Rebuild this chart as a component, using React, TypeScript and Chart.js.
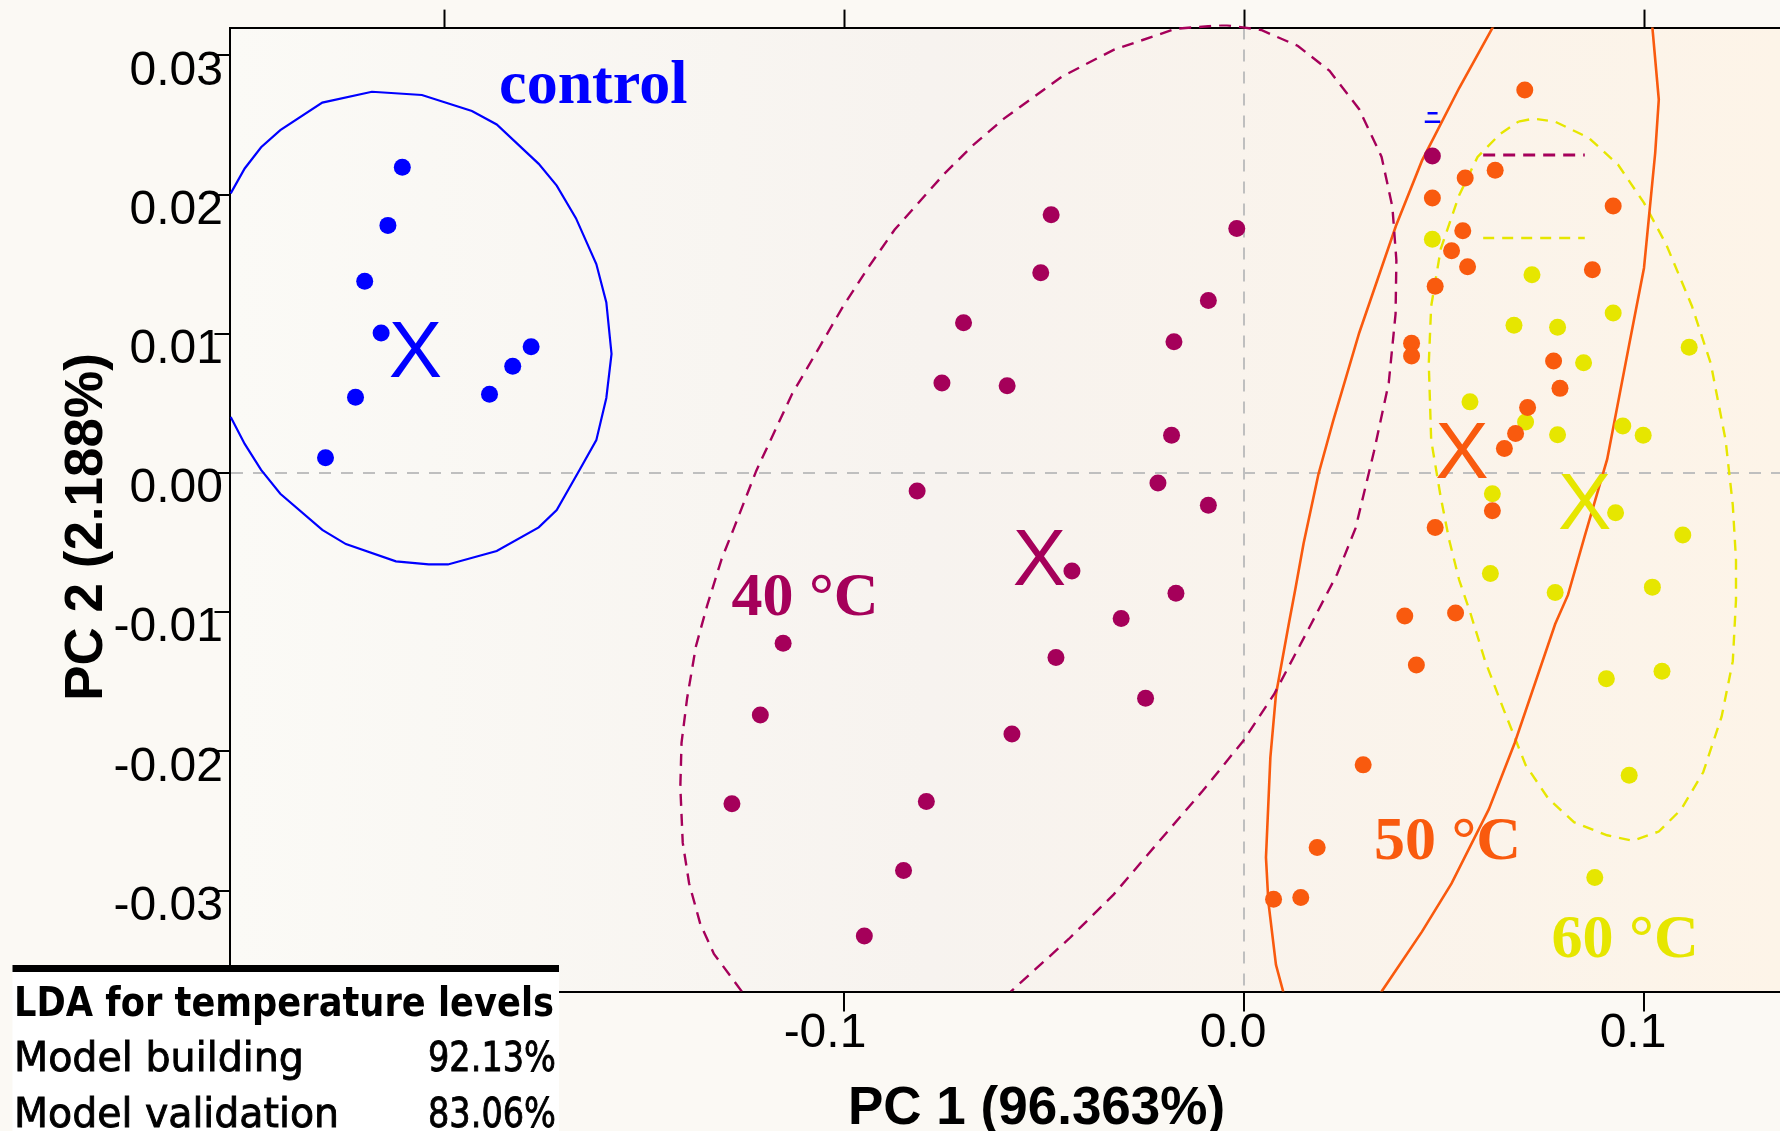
import React, { useEffect, useRef } from "react";
import { Chart, registerables } from "chart.js";

Chart.register(...registerables);

// ---------- data (PC1, PC2) ----------
const controlPoints: [number, number][] = [
  [-0.2105, 0.02197], [-0.2141, 0.01779], [-0.2199, 0.01377], [-0.2158, 0.01006], [-0.2222, 0.00545],
  [-0.2297, 0.0011], [-0.1887, 0.00566], [-0.1829, 0.00767], [-0.1783, 0.00907],
];

const c40Points: [number, number][] = [
  [-0.0483, 0.01856], [-0.0019, 0.01756], [-0.0509, 0.01438], [-0.009, 0.0124], [-0.0702, 0.0108],
  [-0.0176, 0.00943], [-0.0756, 0.00646], [-0.0593, 0.00626], [-0.0182, 0.00272], [-0.0818, -0.00129],
  [-0.0216, -0.00072], [-0.009, -0.00231], [-0.0431, -0.00704], [-0.0171, -0.00864], [-0.0308, -0.01045],
  [-0.1153, -0.01224], [-0.0471, -0.01325], [-0.0247, -0.01618], [-0.121, -0.01738], [-0.0581, -0.01876],
  [-0.1281, -0.02376], [-0.0795, -0.02361], [-0.0852, -0.02856], [-0.095, -0.03327], [0.047, 0.02277],
];

const c50Points: [number, number][] = [
  [0.0701, 0.02752], [0.0627, 0.02175], [0.0552, 0.02119], [0.047, 0.01976], [0.0922, 0.01919],
  [0.0546, 0.0174], [0.0518, 0.01597], [0.0558, 0.01482], [0.087, 0.0146], [0.0477, 0.01341],
  [0.0418, 0.00932], [0.0418, 0.00841], [0.0773, 0.00805], [0.0789, 0.00608], [0.0708, 0.0047],
  [0.0678, 0.00283], [0.065, 0.00176], [0.062, -0.00272], [0.0477, -0.00391], [0.0401, -0.01027],
  [0.0528, -0.01006], [0.043, -0.01379], [0.0297, -0.02097], [0.0182, -0.0269], [0.0073, -0.03063],
  [0.0141, -0.0305],
];

const c60Points: [number, number][] = [
  [0.047, 0.0168], [0.0719, 0.01424], [0.0922, 0.01149], [0.0674, 0.01061], [0.0783, 0.01047],
  [0.1112, 0.00904], [0.0848, 0.00792], [0.0564, 0.00511], [0.0703, 0.00366], [0.0783, 0.00275],
  [0.0946, 0.00338], [0.0997, 0.00272], [0.062, -0.00149], [0.0928, -0.00286], [0.1096, -0.00445],
  [0.0615, -0.00722], [0.0777, -0.00858], [0.102, -0.0082], [0.0905, -0.01479], [0.1044, -0.01424],
  [0.0962, -0.02172], [0.0876, -0.02906],
];

// group centroids ("X" marks)
const centroidNames = ["control", "40 °C", "50 °C", "60 °C"];
const centroidX = [-0.2072, -0.0512, 0.0544, 0.0851];
const centroidY = [0.00896, -0.00596, 0.00167, -0.00197];

// group labels (left / baseline anchor)
const labelTexts = ["control", "40 °C", "50 °C", "60 °C"];
const labelX = [-0.1863, -0.1282, 0.0324, 0.0768];
const labelY = [0.02661, -0.01019, -0.02773, -0.03481];

// confidence ellipses (outline vertices)
const controlEllipse: [number, number][] = [
  [-0.2534, 0.02009], [-0.2499, 0.02188], [-0.2458, 0.0234], [-0.241, 0.02463], [-0.2305, 0.02661],
  [-0.2181, 0.02739], [-0.2056, 0.02716], [-0.1931, 0.02601], [-0.1869, 0.02504], [-0.1764, 0.02221],
  [-0.1719, 0.02065], [-0.1671, 0.01831], [-0.162, 0.01501], [-0.1595, 0.01226], [-0.1582, 0.00855],
  [-0.1595, 0.00539], [-0.162, 0.00236], [-0.1662, 0.00022], [-0.1719, -0.00267], [-0.1764, -0.00391],
  [-0.1869, -0.00561], [-0.1991, -0.00657], [-0.2039, -0.00657], [-0.2121, -0.00635], [-0.2246, -0.00511],
  [-0.2305, -0.00409], [-0.241, -0.00149], [-0.2458, 0.00022], [-0.2499, 0.00209], [-0.2534, 0.00402],
];

const c40Ellipse: [number, number][] = [
  [-0.1256, -0.03726], [-0.1326, -0.03455], [-0.136, -0.03241], [-0.1388, -0.02949], [-0.1404, -0.02656],
  [-0.141, -0.02256], [-0.1407, -0.01938], [-0.1393, -0.01618], [-0.1371, -0.01245], [-0.1343, -0.00953],
  [-0.1307, -0.0062], [-0.1276, -0.00396], [-0.122, 0.00017], [-0.1131, 0.00566], [-0.1064, 0.00896],
  [-0.1003, 0.01198], [-0.0941, 0.01473], [-0.0874, 0.01749], [-0.0751, 0.02147], [-0.0679, 0.02353],
  [-0.0601, 0.02546], [-0.0456, 0.02848], [-0.0327, 0.0304], [-0.0171, 0.03192], [-0.0048, 0.03219],
  [0.0042, 0.03183], [0.0134, 0.03068], [0.0213, 0.02889], [0.0287, 0.02614], [0.0343, 0.02271],
  [0.037, 0.01913], [0.038, 0.01529], [0.0378, 0.01144], [0.0361, 0.00649], [0.0324, 0.00154],
  [0.0278, -0.00396], [0.0232, -0.00726], [0.0167, -0.01085], [0.0074, -0.01591], [-0.0003, -0.01925],
  [-0.0104, -0.02283], [-0.0216, -0.02656], [-0.0327, -0.03029], [-0.0439, -0.03348], [-0.0584, -0.03726],
];

const c50EllipseLeft: [number, number][] = [
  [0.0631, 0.03254], [0.0537, 0.02766], [0.0444, 0.02244], [0.0379, 0.01776], [0.0287, 0.01006],
  [0.0222, 0.00374], [0.0185, -0.00011], [0.0148, -0.00506], [0.0127, -0.00841], [0.0111, -0.01085],
  [0.0079, -0.01591], [0.0065, -0.02044], [0.0054, -0.02762], [0.006, -0.03082], [0.0079, -0.03534],
  [0.0097, -0.03726], [0.0104, -0.03786],
];

const c50EllipseRight: [number, number][] = [
  [0.1017, 0.0329], [0.102, 0.032], [0.1036, 0.02683], [0.1027, 0.02299], [0.0999, 0.01473],
  [0.0962, 0.00924], [0.0907, 0.00099], [0.0851, -0.00451], [0.0809, -0.00876], [0.0777, -0.01085],
  [0.0676, -0.01938], [0.0611, -0.02417], [0.0518, -0.02949], [0.0444, -0.03295], [0.0343, -0.03726],
  [0.0327, -0.03786],
];

const c60Ellipse: [number, number][] = [
  [0.0685, 0.02524], [0.0722, 0.02546], [0.0777, 0.02524], [0.0861, 0.02408], [0.0934, 0.02216],
  [0.0999, 0.01941], [0.1055, 0.01639], [0.1119, 0.01198], [0.1166, 0.00786], [0.1203, 0.00236],
  [0.1221, -0.00231], [0.1229, -0.00625], [0.1229, -0.00912], [0.1221, -0.01352], [0.1193, -0.01751],
  [0.1147, -0.0215], [0.1092, -0.02417], [0.1036, -0.02576], [0.0971, -0.02642], [0.0907, -0.02603],
  [0.0824, -0.02509], [0.0759, -0.02336], [0.0703, -0.02097], [0.0648, -0.01698], [0.0602, -0.01352],
  [0.0565, -0.01006], [0.0537, -0.00769], [0.0512, -0.00481], [0.0491, -0.00176], [0.0467, 0.00236],
  [0.0461, 0.00786], [0.0467, 0.01198], [0.0491, 0.01611], [0.0537, 0.01996], [0.0583, 0.02271],
  [0.0639, 0.02435], [0.0685, 0.02524],
];

// stray legend fragments visible in the figure
const maroonSegment: [number, number][] = [[0.0597, 0.02284], [0.0851, 0.02284]];
const yellowSegment: [number, number][] = [[0.0597, 0.01688], [0.0851, 0.01688]];
const blueMark: [number, number][] = [[0.0451, 0.02524], [0.049, 0.02524]];
const blueMarkTop: [number, number][] = [[0.0458, 0.02585], [0.0483, 0.02585]];

// axes
const xMin = -0.2537;
const xMax = 0.1339;
const yMin = -0.03726;
const yMax = 0.032;
const xTitle = "PC 1 (96.363%)";
const yTitle = "PC 2 (2.188%)";

const tableTitle = "LDA for temperature levels";
const tableRows = ["Model building", "Model validation"];
const tableValues = ["92.13%", "83.06%"];

// colours
const BLUE = "#0000FF";
const MAROON = "#A5005A";
const ORANGE = "#F95A0E";
const YELLOW = "#E6E600";
const groupColors = [BLUE, MAROON, ORANGE, YELLOW];

const toXY = (arr: [number, number][]) => arr.map(([x, y]) => ({ x, y }));

const pointSet = (label: string, arr: [number, number][], color: string) => ({
  label,
  data: toXY(arr),
  backgroundColor: color,
  borderColor: color,
  pointRadius: 8.5,
  pointBorderWidth: 0,
  showLine: false,
});

const lineSet = (label: string, arr: [number, number][], color: string, width: number, dash: number[], clip: any = 0) => ({
  label,
  data: toXY(arr),
  showLine: true,
  borderColor: color,
  backgroundColor: color,
  borderWidth: width,
  borderDash: dash,
  pointRadius: 0,
  fill: false,
  tension: 0,
  clip,
});

// draw text horizontally scaled to an exact width
function fitText(ctx: CanvasRenderingContext2D, text: string, x: number, y: number, w: number, align: "left" | "right", stroke = 0) {
  const m = ctx.measureText(text).width;
  const s = w / m;
  ctx.save();
  ctx.translate(align === "left" ? x : x - w, y);
  ctx.scale(s, 1);
  ctx.textAlign = "left";
  ctx.fillText(text, 0, 0);
  if (stroke > 0) {
    ctx.lineWidth = stroke;
    ctx.strokeStyle = ctx.fillStyle as string;
    ctx.strokeText(text, 0, 0);
  }
  ctx.restore();
}

const bgPlugin = {
  id: "bg",
  beforeDraw(chart: any) {
    const { ctx, width, height, chartArea } = chart;
    ctx.save();
    ctx.fillStyle = "#FBF9F4";
    ctx.fillRect(0, 0, width, height);
    const g = ctx.createLinearGradient(chartArea.left, 0, chartArea.right, 0);
    g.addColorStop(0, "#FBFAF6");
    g.addColorStop(0.45, "#F7F3EF");
    g.addColorStop(1, "#FDF4E8");
    ctx.fillStyle = g;
    ctx.fillRect(chartArea.left, chartArea.top, chartArea.right - chartArea.left, chartArea.bottom - chartArea.top);
    ctx.restore();
  },
};

const annotPlugin = {
  id: "annot",
  afterDatasetsDraw(chart: any) {
    const { ctx } = chart;
    const xs = chart.scales.x;
    const ys = chart.scales.y;
    ctx.save();
    // centroid X marks
    ctx.font = '80px "Liberation Sans", Arial, sans-serif';
    ctx.textAlign = "center";
    ctx.textBaseline = "alphabetic";
    centroidNames.forEach((_n, i) => {
      ctx.fillStyle = groupColors[i];
      ctx.fillText("X", xs.getPixelForValue(centroidX[i]), ys.getPixelForValue(centroidY[i]) + 28.6);
    });
    // group labels
    ctx.font = 'bold 62px "Liberation Serif", "Times New Roman", serif';
    ctx.textAlign = "left";
    labelTexts.forEach((t, i) => {
      ctx.fillStyle = groupColors[i];
      ctx.fillText(t, xs.getPixelForValue(labelX[i]), ys.getPixelForValue(labelY[i]));
    });
    ctx.restore();
  },
  afterDraw(chart: any) {
    const { ctx } = chart;
    ctx.save();
    // axis titles
    ctx.fillStyle = "#000";
    ctx.font = 'bold 53px "Liberation Sans", Arial, sans-serif';
    ctx.textBaseline = "alphabetic";
    ctx.textAlign = "left";
    ctx.fillText(xTitle, 848, 1123.5);
    ctx.save();
    ctx.translate(102, 527);
    ctx.rotate(-Math.PI / 2);
    ctx.textAlign = "center";
    ctx.fillText(yTitle, 0, 0);
    ctx.restore();

    // table box
    ctx.fillStyle = "#FFFFFF";
    ctx.fillRect(12.5, 965, 546.5, 170);
    ctx.fillStyle = "#000";
    ctx.fillRect(12.5, 965, 546.5, 7);
    ctx.font = 'bold 41px "DejaVu Sans", Verdana, sans-serif';
    fitText(ctx, tableTitle, 14, 1016, 540, "left");
    ctx.font = '41px "DejaVu Sans", Verdana, sans-serif';
    fitText(ctx, tableRows[0], 14, 1071, 290, "left", 0.9);
    fitText(ctx, tableRows[1], 14, 1127, 325, "left", 0.9);
    fitText(ctx, tableValues[0], 556, 1071, 128, "right", 0.9);
    fitText(ctx, tableValues[1], 556, 1127, 128, "right", 0.9);
    ctx.restore();
  },
};

export default function App() {
  const ref = useRef<HTMLCanvasElement | null>(null);

  useEffect(() => {
    const canvas = ref.current;
    if (!canvas) return;
    const zeroGrid = (c: any) => (c.tick && Math.abs(c.tick.value) < 1e-9 ? "#BFBFBF" : "rgba(0,0,0,0)");
    const tickFont = { family: '"Liberation Sans", Arial, sans-serif', size: 48, lineHeight: 1 };

    const chart = new Chart(canvas, {
      type: "scatter",
      data: {
        datasets: [
          pointSet("control", controlPoints, BLUE),
          pointSet("40 °C", c40Points, MAROON),
          pointSet("50 °C", c50Points, ORANGE),
          pointSet("60 °C", c60Points, YELLOW),
          lineSet("control ellipse", controlEllipse, BLUE, 2.2, []),
          lineSet("40 °C ellipse", c40Ellipse, MAROON, 2.4, [12, 8], { left: 0, top: 3, right: 0, bottom: 0 }),
          lineSet("50 °C ellipse L", c50EllipseLeft, ORANGE, 2.6, []),
          lineSet("50 °C ellipse R", c50EllipseRight, ORANGE, 2.6, []),
          lineSet("60 °C ellipse", c60Ellipse, YELLOW, 2.4, [11, 8]),
          lineSet("seg40", maroonSegment, MAROON, 3, [12, 8]),
          lineSet("seg60", yellowSegment, YELLOW, 2.4, [11, 8]),
          lineSet("mark", blueMark, BLUE, 2.5, []),
          lineSet("mark top", blueMarkTop, BLUE, 2.5, []),
        ] as any,
      },
      options: {
        animation: false,
        responsive: false,
        devicePixelRatio: 1,
        layout: { padding: 0, autoPadding: false },
        plugins: {
          legend: { display: false },
          tooltip: { enabled: false },
          title: { display: false },
        },
        scales: {
          x: {
            type: "linear",
            position: "bottom",
            min: xMin,
            max: xMax,
            afterFit: (s: any) => {
              s.height = 139.4;
            },
            ticks: {
              stepSize: 0.1,
              includeBounds: false,
              autoSkip: false,
              maxRotation: 0,
              align: "end",
              labelOffset: 22,
              padding: -2,
              color: "#000",
              font: tickFont,
              callback: (v: any) => Number(v).toFixed(1),
            },
            grid: {
              color: zeroGrid,
              lineWidth: 2,
              tickColor: "#000",
              tickWidth: 2,
              tickLength: 20,
              drawOnChartArea: true,
            },
            border: { display: true, color: "#000", width: 2, dash: [12, 10] },
          },
          xTop: {
            type: "linear",
            position: "top",
            min: xMin,
            max: xMax,
            afterFit: (s: any) => {
              s.height = 27.6;
            },
            ticks: { display: false, stepSize: 0.1, includeBounds: false },
            grid: {
              drawOnChartArea: false,
              color: "#000",
              tickColor: "#000",
              tickWidth: 2,
              tickLength: 18,
            },
            border: { display: true, color: "#000", width: 2 },
          },
          y: {
            type: "linear",
            position: "left",
            min: yMin,
            max: yMax,
            afterFit: (s: any) => {
              s.width = 229.5;
            },
            ticks: {
              stepSize: 0.01,
              includeBounds: false,
              autoSkip: false,
              padding: -8.5,
              labelOffset: 16,
              color: "#000",
              font: tickFont,
              callback: (v: any) => Number(v).toFixed(2),
            },
            grid: {
              color: zeroGrid,
              lineWidth: 2,
              tickColor: "#000",
              tickWidth: 2,
              tickLength: 15,
              drawOnChartArea: true,
            },
            border: { display: true, color: "#000", width: 2, dash: [12, 10] },
          },
        },
      } as any,
      plugins: [bgPlugin, annotPlugin],
    });

    return () => chart.destroy();
  }, []);

  return (
    <div style={{ position: "absolute", left: 0, top: 0, width: 1780, height: 1131, overflow: "hidden" }}>
      <canvas ref={ref} width={1780} height={1131} style={{ width: 1780, height: 1131, display: "block" }} />
    </div>
  );
}
